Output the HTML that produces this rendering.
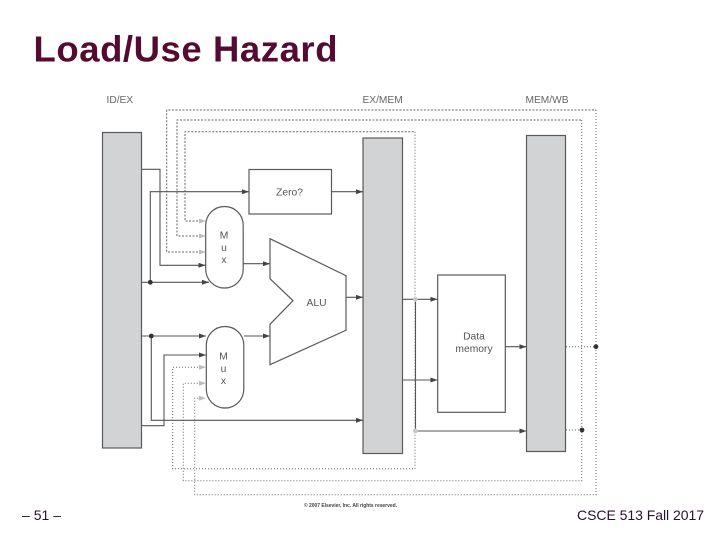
<!DOCTYPE html>
<html>
<head>
<meta charset="utf-8">
<style>
html,body{margin:0;padding:0;background:#fff;}
svg{display:block;}
text{font-family:"Liberation Sans",Arial,sans-serif;}
.d{filter:blur(0.35px);}
</style>
</head>
<body>
<svg width="720" height="540" viewBox="0 0 720 540" xmlns="http://www.w3.org/2000/svg">
<defs>
<marker id="a" viewBox="0 0 7 5" refX="7" refY="2.500" markerWidth="7" markerHeight="5" markerUnits="userSpaceOnUse" orient="auto"><path d="M0 0L7 2.500L0 5z" fill="#444"/></marker>
</defs>
<rect width="720" height="540" fill="#fff"/>
<text x="33.500" y="61.700" font-size="36.500" font-weight="bold" fill="#550a32" textLength="304" lengthAdjust="spacing">Load/Use Hazard</text>
<text x="22" y="520" font-size="14" fill="#2a1030" textLength="39" lengthAdjust="spacing">– 51 –</text>
<text x="577" y="520" font-size="14" fill="#2a1030" textLength="127" lengthAdjust="spacing">CSCE 513 Fall 2017</text>

<g class="d">
<g font-size="10.200" fill="#666">
<text x="106.500" y="103">ID/EX</text>
<text x="362.500" y="103">EX/MEM</text>
<text x="525.500" y="103">MEM/WB</text>
</g>

<!-- dashed upper portions -->
<g fill="none" stroke="#666" stroke-width="1" stroke-dasharray="2 1.500">
<path d="M205 252H166.700V110H596"/>
<path d="M205 236H177V120H581.700"/>
<path d="M205 221H185V131.700H415"/>
</g>
<!-- dotted lower portions -->
<g fill="none" stroke="#666" stroke-width="1" stroke-dasharray="1 2">
<path d="M596 110V494.700H194.700V398.300H205"/>
<path d="M581.700 120V480.700H183.300V383.300H205"/>
<path d="M415 131.700V468.700H172.700V367.300H205"/>
<path d="M566 346.700H596"/>
<path d="M566 430H582"/>
</g>

<!-- registers -->
<g fill="#d1d3d4" stroke="#5a5a5a" stroke-width="1.200">
<rect x="102.500" y="132.500" width="39" height="315.500"/>
<rect x="363" y="138" width="39.500" height="315.500"/>
<rect x="526.500" y="135.500" width="39" height="316"/>
</g>

<!-- blocks -->
<g fill="#fff" stroke="#5a5a5a" stroke-width="1.200">
<rect x="249" y="169.500" width="82.500" height="44.500"/>
<rect x="437.700" y="275" width="67.600" height="137.300"/>
<rect x="205.700" y="206.500" width="37.500" height="81.500" rx="18.700" ry="18.700"/>
<rect x="206.300" y="326.500" width="37.500" height="81.500" rx="18.700" ry="18.700"/>
<path d="M270 238.700L346 275.700V330.300L270 364.700V324.300L293 300.700L270 278.700Z"/>
</g>

<!-- solid connectors -->
<g fill="none" stroke="#555" stroke-width="1.100">
<path d="M141.700 169.300H160V265.300H205.500" marker-end="url(#a)"/>
<path d="M141.700 282.300H209" marker-end="url(#a)"/>
<path d="M150.300 282.300V191.700H249" marker-end="url(#a)"/>
<path d="M331.500 191.700H363" marker-end="url(#a)"/>
<path d="M243.200 263.700H270" marker-end="url(#a)"/>
<path d="M346 297.300H363" marker-end="url(#a)"/>
<path d="M141.700 336H206" marker-end="url(#a)"/>
<path d="M151.300 336V420.300H363" marker-end="url(#a)"/>
<path d="M141.700 425.700H164V355H206" marker-end="url(#a)"/>
<path d="M243.800 336H270" marker-end="url(#a)"/>
<path d="M402.500 299.300H437.500" marker-end="url(#a)"/>
<path d="M402.500 380H437.500" marker-end="url(#a)"/>
<path d="M415.500 299.300V431"/>
<path d="M415.500 431H526.500" marker-end="url(#a)"/>
<path d="M505.300 346.700H526.500" marker-end="url(#a)"/>
</g>

<!-- light arrowheads -->
<g fill="#bbb">
<path d="M199 218.500L205.500 221L199 223.500z"/>
<path d="M199 233.500L205.500 236L199 238.500z"/>
<path d="M199 249.500L205.500 252L199 254.500z"/>
<path d="M199 364.800L206 367.300L199 369.800z"/>
<path d="M199 380.800L206 383.300L199 385.800z"/>
<path d="M199 395.800L206 398.300L199 400.800z"/>
</g>

<!-- dots -->
<g fill="#333">
<circle cx="150.300" cy="282.300" r="2.400"/>
<circle cx="151.300" cy="336" r="2.400"/>
<circle cx="596" cy="346.700" r="2.400"/>
<circle cx="582" cy="430" r="2.400"/>
</g>
<g fill="#c8c8c8">
<circle cx="415.300" cy="299.300" r="2.400"/>
<circle cx="415.300" cy="431" r="2.400"/>
</g>

<!-- labels -->
<g font-size="10.300" fill="#555" text-anchor="middle">
<text x="289.500" y="195.500">Zero?</text>
<text x="224" y="238.500">M</text>
<text x="224" y="251">u</text>
<text x="224" y="263">x</text>
<text x="223.500" y="359.500">M</text>
<text x="223.500" y="372">u</text>
<text x="223.500" y="384">x</text>
<text x="316.500" y="305.800">ALU</text>
<text x="474" y="339.500">Data</text>
<text x="474" y="352">memory</text>
</g>
<text x="304" y="507" font-size="5" font-weight="bold" fill="#444" textLength="93">© 2007 Elsevier, Inc. All rights reserved.</text>
</g>
</svg>
</body>
</html>
